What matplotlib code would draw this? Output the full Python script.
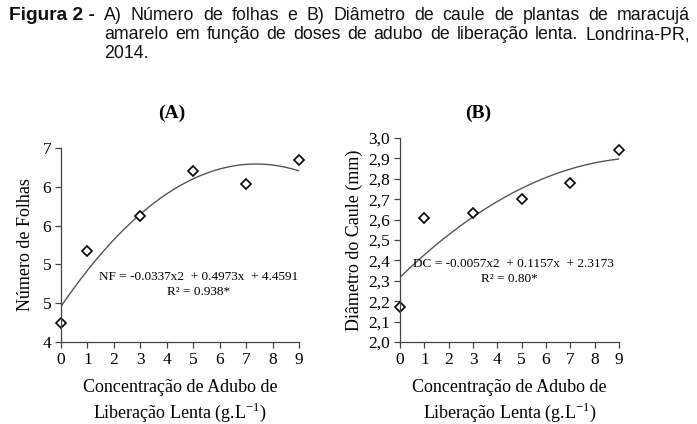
import matplotlib
matplotlib.use("Agg")
import matplotlib.pyplot as plt
import numpy as np

# dados
doses = [0, 1, 3, 5, 7, 9]
folhas = [4.25, 5.17, 5.63, 6.21, 6.03, 6.34]
diametro = [2.17, 2.61, 2.63, 2.70, 2.78, 2.94]
coef_nf = [-0.0337, 0.4973, 4.4591]
coef_dc = [-0.0057, 0.1157, 2.3173]
xticks = list(range(10))
yticks_a = [4.0, 4.5, 5.0, 5.5, 6.0, 6.5]
ylabels_a = ["4", "5", "5", "6", "6", "7"]
yticks_b = [2.0, 2.1, 2.2, 2.3, 2.4, 2.5, 2.6, 2.7, 2.8, 2.9, 3.0]
ylabels_b = ["2,0", "2,1", "2,2", "2,3", "2,4", "2,5", "2,6", "2,7", "2,8", "2,9", "3,0"]
eq_a = ["NF = -0.0337x2  + 0.4973x  + 4.4591", "R² = 0.938*"]
eq_b = ["DC = -0.0057x2  + 0.1157x  + 2.3173", "R² = 0.80*"]

plt.rcParams['font.family'] = ['Liberation Serif', 'DejaVu Serif']
plt.rcParams['mathtext.fontset'] = 'custom'
plt.rcParams['mathtext.rm'] = 'Liberation Serif'

W, H = 697, 424
fig = plt.figure(figsize=(W / 100, H / 100), dpi=100)

def px(x0, y_top, x1, y_bot):
    return [x0 / W, 1 - y_bot / H, (x1 - x0) / W, (y_bot - y_top) / H]

ax1 = fig.add_axes(px(61, 148, 299, 342))
ax2 = fig.add_axes(px(400, 138, 619, 342))

xs = np.linspace(0, 9, 200)
xlabel = "Concentração de Adubo de\nLiberação Lenta (g.L$^{\\mathregular{-1}}$)"

def style(ax):
    for s in ['top', 'right']:
        ax.spines[s].set_visible(False)
    for s in ['left', 'bottom']:
        ax.spines[s].set_color('#444444')
        ax.spines[s].set_linewidth(0.9)
    ax.tick_params(axis='both', direction='out', length=4, width=0.9,
                   color='#444444', labelsize=12.5, pad=3)
    ax.set_xlim(0, 9)
    ax.set_xticks(xticks)
    ax.set_xlabel(xlabel, fontsize=13, linespacing=1.3, labelpad=8)

# (A)
ax1.plot(xs, np.polyval(coef_nf, xs), color='#555555', lw=1.0)
ax1.plot(doses, folhas, 'D', ms=5.5, mfc='white', mec='black', mew=1.2, clip_on=False)
style(ax1)
ax1.set_ylim(4.0, 6.5)
ax1.set_yticks(yticks_a)
ax1.set_yticklabels(ylabels_a)
ax1.set_ylabel("Número de Folhas", fontsize=13, labelpad=6)
ax1.text(5.2, 4.84, eq_a[0], fontsize=9.5, ha='center', va='center')
ax1.text(5.2, 4.64, eq_a[1], fontsize=9.5, ha='center', va='center')

# (B)
ax2.plot(xs, np.polyval(coef_dc, xs), color='#555555', lw=1.0)
ax2.plot(doses, diametro, 'D', ms=5.5, mfc='white', mec='black', mew=1.2, clip_on=False)
style(ax2)
ax2.set_ylim(2.0, 3.0)
ax2.set_yticks(yticks_b)
ax2.set_yticklabels(ylabels_b)
ax2.set_ylabel("Diâmetro do Caule (mm)", fontsize=13, labelpad=4)
ax2.text(4.65, 2.38, eq_b[0], fontsize=9.5, ha='center', va='center')
ax2.text(4.5, 2.31, eq_b[1], fontsize=9.5, ha='center', va='center')

fig.text(172 / W, 1 - 113 / H, "(A)", fontsize=14, fontweight='bold', ha='center', va='center')
fig.text(478 / W, 1 - 113 / H, "(B)", fontsize=14, fontweight='bold', ha='center', va='center')

# legenda da figura (texto justificado)
cap_kw = dict(family=['Liberation Sans', 'DejaVu Sans'], va='center', color='#111111')
fig.text(9 / W, 1 - 15 / H, "Figura 2 -", fontweight='bold', fontsize=13.8, **cap_kw)
linhas = [
    "A) Número de folhas e B) Diâmetro de caule de plantas de maracujá",
    "amarelo em função de doses de adubo de liberação lenta. Londrina-PR,",
]
renderer = fig.canvas.get_renderer()
for i, linha in enumerate(linhas):
    y = 1 - (15 + 19.5 * i) / H
    words = linha.split()
    texts = [fig.text(0, y, w, fontsize=12.8, **cap_kw) for w in words]
    widths = [t.get_window_extent(renderer).width for t in texts]
    gap = ((690 - 104) - sum(widths)) / (len(words) - 1)
    x = 104
    for t, w in zip(texts, widths):
        t.set_x(x / W)
        x += w + gap
fig.text(104 / W, 1 - 54 / H, "2014.", fontsize=12.8, **cap_kw)

fig.savefig("out.png", dpi=100)
